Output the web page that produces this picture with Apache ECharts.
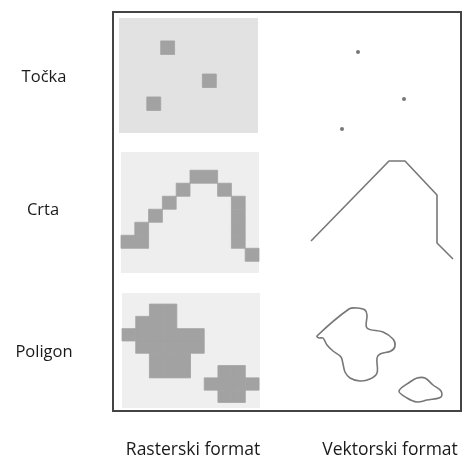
<!DOCTYPE html>
<html>
<head>
<meta charset="utf-8">
<script src="https://cdn.jsdelivr.net/npm/echarts@6/dist/echarts.min.js"></script>
<style>
  html, body { margin: 0; padding: 0; background: #fff; }
  #main { width: 464px; height: 466px; }
</style>
</head>
<body>
<div id="main"></div>
<script>
const rowLabels = ['Točka', 'Crta', 'Poligon'];
const colLabels = ['Rasterski format', 'Vektorski format'];

// raster cells, [column, row] in cell units
const pointCells = [[3, 1.7], [6, 4.15], [2, 5.85]];
const lineCells = [[0, 6], [1, 6], [1, 5], [2, 4], [3, 3], [4, 2], [5, 1], [6, 1], [7, 2],
    [8, 3], [8, 4], [8, 5], [8, 6], [9, 7]];
const polyCells = [
    [2, 0], [3, 0],
    [1, 1], [2, 1], [3, 1],
    [0, 2], [1, 2], [2, 2], [3, 2], [4, 2], [5, 2],
    [1, 3], [2, 3], [3, 3], [4, 3], [5, 3],
    [2, 4], [3, 4], [4, 4],
    [2, 5], [3, 5], [4, 5], [7, 5], [8, 5],
    [6, 6], [7, 6], [8, 6], [9, 6],
    [7, 7], [8, 7]
];

// vector drawing, [x, y] in drawing units
const vecPoints = [[88, 40], [134, 87], [72, 117]];
const vecLine = [[41, 229], [119, 149], [135, 149], [167, 183], [167, 231], [183, 247]];
const vecPolyBig = [[47, 324], [79, 297], [87, 296], [95, 298], [97, 303], [97, 316], [113, 320],
    [123, 327], [125, 334], [121, 339], [110, 342], [107, 346], [107, 361], [100, 367], [90, 369],
    [80, 366], [75, 360], [73, 352], [71, 345], [63, 339], [57, 333], [53, 326], [49, 326]];
const vecPolySmall = [[129, 379], [140, 370], [147, 366], [155, 366], [163, 373], [171, 379],
    [171, 385], [157, 388], [147, 390], [137, 386]];

const CELL = '#a2a2a2';
const STROKE = '#777';
const TXT = '#1a1a1a';

var myChart = echarts.init(document.getElementById('main'));

function cellItem(params, api) {
    var p = api.coord([api.value(0), api.value(1)]);
    var s = api.size([1, 1]);
    return {
        type: 'rect',
        shape: { x: p[0], y: p[1], width: s[0], height: s[1] },
        style: { fill: CELL, stroke: CELL, lineWidth: 0.8 }
    };
}

function polyItem(points) {
    return function (params, api) {
        if (params.dataIndex !== 0) return;
        return {
            type: 'polygon',
            shape: { points: points.map(function (d) { return api.coord(d); }), smooth: 0.35 },
            style: { fill: 'none', stroke: STROKE, lineWidth: 1.6 }
        };
    };
}

function hidden(idx, min, max, inverse) {
    return { type: 'value', gridIndex: idx, min: min, max: max, inverse: !!inverse, show: false };
}

function label(text, x, y, size) {
    return {
        type: 'text', x: x, y: y,
        style: { text: text, font: size + 'px "Open Sans", sans-serif', fill: TXT, align: 'center', verticalAlign: 'middle' }
    };
}

let option = {
    animation: false,
    grid: [
        { left: 119, top: 18, width: 139, height: 115, show: true, backgroundColor: '#e2e2e2', borderWidth: 0 },
        { left: 121, top: 152, width: 138, height: 121, show: true, backgroundColor: '#eeeeee', borderWidth: 0 },
        { left: 122, top: 293, width: 138, height: 115, show: true, backgroundColor: '#efefef', borderWidth: 0 },
        { left: 270, top: 12, width: 190, height: 400 }
    ],
    xAxis: [
        hidden(0, 0, 10),
        hidden(1, 0, 10),
        hidden(2, 0, 10.07),
        hidden(3, 0, 190)
    ],
    yAxis: [
        hidden(0, 0, 8.52, true),
        hidden(1, -0.4, 8.9, true),
        hidden(2, -0.9, 8.45, true),
        hidden(3, 0, 400, true)
    ],
    graphic: [
        {
            type: 'rect',
            shape: { x: 113, y: 12, width: 348, height: 399 },
            style: { fill: 'none', stroke: '#444', lineWidth: 2 },
            z: 10
        },
        label(rowLabels[0], 44, 77, 16.5),
        label(rowLabels[1], 43, 210, 16.5),
        label(rowLabels[2], 44, 352, 16.5),
        label(colLabels[0], 193, 450, 17.5),
        label(colLabels[1], 390, 450, 17.5)
    ],
    series: [
        { type: 'custom', xAxisIndex: 0, yAxisIndex: 0, data: pointCells, renderItem: cellItem },
        { type: 'custom', xAxisIndex: 1, yAxisIndex: 1, data: lineCells, renderItem: cellItem },
        { type: 'custom', xAxisIndex: 2, yAxisIndex: 2, data: polyCells, renderItem: cellItem },
        {
            type: 'scatter', xAxisIndex: 3, yAxisIndex: 3, data: vecPoints,
            symbolSize: 4, itemStyle: { color: '#555' }
        },
        {
            type: 'line', xAxisIndex: 3, yAxisIndex: 3, data: vecLine,
            symbol: 'none', lineStyle: { color: STROKE, width: 1.6 }
        },
        { type: 'custom', xAxisIndex: 3, yAxisIndex: 3, data: vecPolyBig, renderItem: polyItem(vecPolyBig) },
        { type: 'custom', xAxisIndex: 3, yAxisIndex: 3, data: vecPolySmall, renderItem: polyItem(vecPolySmall) }
    ]
};

myChart.setOption(option);
</script>
</body>
</html>
